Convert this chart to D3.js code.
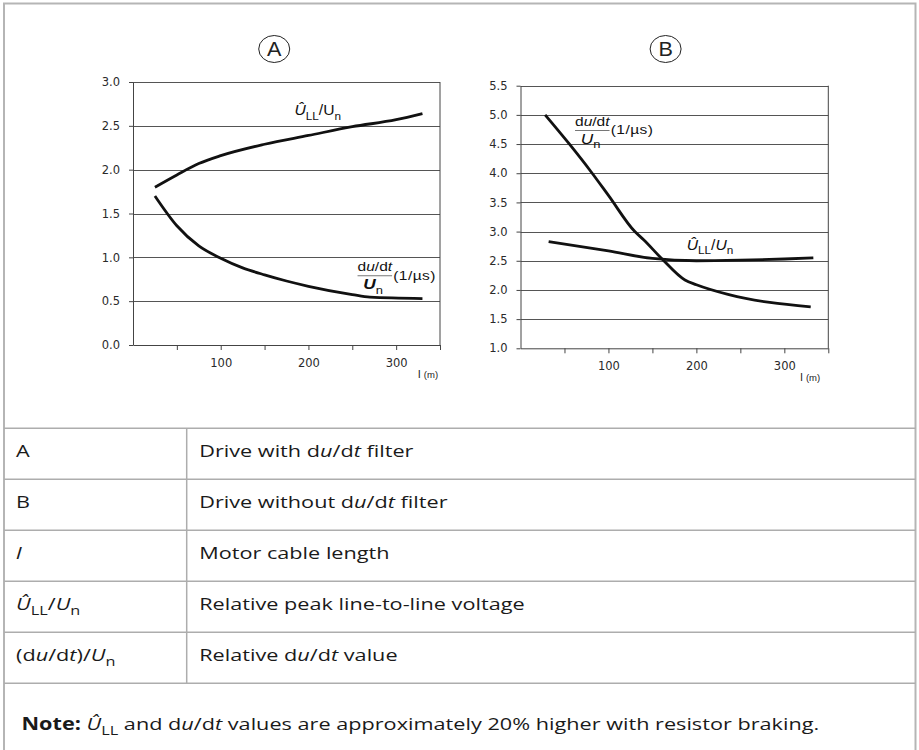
<!DOCTYPE html>
<html lang="en">
<head>
<meta charset="UTF-8">
<script src="https://cdn.jsdelivr.net/npm/d3@7"></script>
<title>Peak voltage and du/dt vs cable length</title>
<style>
  body { margin: 0; background: #fff; }
</style>
</head>
<body>
<div id="chart"></div>
<script>
// motor cable length (m) on the x axis of both plots
var lenTicks = [50, 100, 150, 200, 250, 300, 350];
var lenLabels = [100, 200, 300];

// plot A: drive with du/dt filter
var aTicks = [0, 0.5, 1.0, 1.5, 2.0, 2.5, 3.0];
var aPeakLen = [25, 50, 75, 100, 150, 200, 250, 300, 330];
var aPeakVal = [1.80, 1.94, 2.07, 2.16, 2.29, 2.39, 2.49, 2.57, 2.64];
var aDvdtLen = [25, 50, 75, 100, 125, 150, 175, 200, 250, 270, 330];
var aDvdtVal = [1.70, 1.36, 1.13, 0.99, 0.88, 0.80, 0.73, 0.67, 0.575, 0.545, 0.53];

// plot B: drive without du/dt filter
var bTicks = [1.0, 1.5, 2.0, 2.5, 3.0, 3.5, 4.0, 4.5, 5.0, 5.5];
var bPeakLen = [32, 100, 150, 200, 250, 300, 333];
var bPeakVal = [2.83, 2.67, 2.54, 2.50, 2.51, 2.53, 2.55];
var bDvdtLen = [28, 55, 80, 100, 130, 140, 161, 187, 200, 237, 330];
var bDvdtVal = [5.0, 4.51, 4.03, 3.62, 3.0, 2.86, 2.53, 2.17, 2.09, 1.92, 1.71];

// legend table (segments: i = italic, b = bold, sub = subscript)
var keyCol = [
  [{t: "A"}],
  [{t: "B"}],
  [{t: "l", i: true}],
  [{t: "Û", i: true}, {t: "LL", sub: true}, {t: "/"}, {t: "U", i: true}, {t: "n", sub: true}],
  [{t: "(d"}, {t: "u", i: true}, {t: "/d"}, {t: "t", i: true}, {t: ")/"}, {t: "U", i: true}, {t: "n", sub: true}]
];
var descCol = [
  [{t: "Drive with d"}, {t: "u", i: true}, {t: "/d"}, {t: "t", i: true}, {t: " filter"}],
  [{t: "Drive without d"}, {t: "u", i: true}, {t: "/d"}, {t: "t", i: true}, {t: " filter"}],
  [{t: "Motor cable length"}],
  [{t: "Relative peak line-to-line voltage"}],
  [{t: "Relative d"}, {t: "u", i: true}, {t: "/d"}, {t: "t", i: true}, {t: " value"}]
];
var note = [{t: "Note: ", b: true}, {t: "Û", i: true}, {t: "LL", sub: true}, {t: " and d"}, {t: "u", i: true},
  {t: "/d"}, {t: "t", i: true}, {t: " values are approximately 20% higher with resistor braking."}];

var W = 919, H = 750;
var svg = d3.select("#chart").append("svg").attr("width", W).attr("height", H);

var tableFont = "'Open Sans', sans-serif";
var chartFont = "'Liberation Sans', Arial, sans-serif";

// the source picture is a little wider than tall, so text gets a horizontal stretch
function label(parent, x, y, sx) {
  return parent.append("g").attr("transform", "translate(" + x + "," + y + ") scale(" + sx + ",1)");
}

// write rich text (italic / bold / subscript pieces) into a text element
function rich(text, segs, size) {
  var shift = 0;
  segs.forEach(function(s) {
    var sp = text.append("tspan").text(s.t);
    if (s.i) sp.attr("font-style", "italic");
    if (s.b) sp.attr("font-weight", "bold");
    var want = s.sub ? size * 0.3 : 0;
    if (want !== shift) { sp.attr("dy", want - shift); shift = want; }
    if (s.sub) sp.attr("font-size", size * 0.75);
  });
  return text;
}

function plot(cfg) {
  var x = d3.scaleLinear().domain([0, 350]).range(cfg.xr);
  var y = d3.scaleLinear().domain(cfg.yd).range(cfg.yr);
  var g = svg.append("g");

  // horizontal grid
  g.selectAll(".grid").data(cfg.ticks.slice(1)).enter().append("line")
    .attr("x1", x(0)).attr("x2", x(350))
    .attr("y1", function(d) { return Math.round(y(d)) + 0.5; })
    .attr("y2", function(d) { return Math.round(y(d)) + 0.5; })
    .attr("stroke", "#555").attr("stroke-width", 1);

  // right border
  g.append("line").attr("x1", x(350)).attr("x2", x(350))
    .attr("y1", y(cfg.yd[1])).attr("y2", y(cfg.yd[0]))
    .attr("stroke", "#444");

  var yAxis = g.append("g").attr("transform", "translate(" + x(0) + ",0)")
    .call(d3.axisLeft(y).tickValues(cfg.ticks).tickSize(4).tickSizeOuter(0).tickPadding(9)
      .tickFormat(d3.format(".1f")));
  var xAxis = g.append("g").attr("transform", "translate(0," + y(cfg.yd[0]) + ")")
    .call(d3.axisBottom(x).tickValues(lenTicks).tickSize(5).tickSizeOuter(0).tickPadding(9)
      .tickFormat(function(d) { return lenLabels.indexOf(d) >= 0 ? d : ""; }));
  [yAxis, xAxis].forEach(function(a) {
    a.attr("font-family", "'DejaVu Sans', sans-serif").attr("font-size", 11.5);
    a.select(".domain").attr("stroke", "#444");
    a.selectAll(".tick line").attr("stroke", "#444");
    a.selectAll(".tick text").attr("fill", "#2a2a2a");
  });

  // axis title l (m)
  var t = g.append("text").attr("x", x(cfg.xTitle)).attr("y", y(cfg.yd[0]) + 33)
    .attr("font-family", chartFont).attr("font-size", 11.5).attr("fill", "#222");
  t.append("tspan").text("l ");
  t.append("tspan").text("(m)").attr("font-size", 9.5);

  // curves
  var line = d3.line().curve(d3.curveMonotoneX)
    .x(function(d) { return x(d[0]); }).y(function(d) { return y(d[1]); });
  [[cfg.peakLen, cfg.peakVal], [cfg.dvLen, cfg.dvVal]].forEach(function(s) {
    g.append("path").datum(d3.zip(s[0], s[1]))
      .attr("d", line).attr("fill", "none")
      .attr("stroke", "#111").attr("stroke-width", 2.8);
  });

  // circled letter
  g.append("ellipse").attr("cx", x(cfg.letterAt)).attr("cy", 49)
    .attr("rx", 15.5).attr("ry", 13.5).attr("fill", "none").attr("stroke", "#222").attr("stroke-width", 1);
  label(g, x(cfg.letterAt), 56, 1.08).append("text").attr("text-anchor", "middle")
    .attr("font-family", chartFont).attr("font-size", 20).attr("fill", "#222").text(cfg.letter);

  // peak voltage label
  rich(label(g, x(cfg.peakLab[0]), y(cfg.peakLab[1]), 1.12).append("text")
    .attr("font-family", chartFont).attr("font-size", 14).attr("fill", "#111"), cfg.peakSegs, 14);

  // du/dt fraction label
  var f = label(g, x(cfg.dvLab[0]), y(cfg.dvLab[1]), 1.15);
  var num = rich(f.append("text")
    .attr("font-family", chartFont).attr("font-size", 13.5).attr("fill", "#111"),
    [{t: "d"}, {t: "u", i: true}, {t: "/d"}, {t: "t", i: true}], 13.5);
  var nw = num.node().getComputedTextLength();
  f.append("line").attr("x1", 0).attr("x2", nw).attr("y1", 4.5).attr("y2", 4.5)
    .attr("stroke", "#777").attr("stroke-width", 1);
  rich(f.append("text").attr("x", 5).attr("y", 18)
    .attr("font-family", chartFont).attr("font-size", 15).attr("fill", "#111"),
    [{t: "U", i: true, b: cfg.boldU}, {t: "n", sub: true}], 15);
  f.append("text").attr("x", nw + 1).attr("y", 8.5).attr("letter-spacing", 0.4)
    .attr("font-family", chartFont).attr("font-size", 13.5).attr("fill", "#111").text("(1/\u00b5s)");
}

plot({
  xr: [133, 440], yd: [0, 3], yr: [345, 82], ticks: aTicks, xTitle: 325,
  peakLen: aPeakLen, peakVal: aPeakVal, dvLen: aDvdtLen, dvVal: aDvdtVal,
  letter: "A", letterAt: 161,
  peakLab: [184, 2.62], dvLab: [256, 0.84], boldU: true,
  peakSegs: [{t: "Û", i: true}, {t: "LL", sub: true}, {t: "/U"}, {t: "n", sub: true}]
});
plot({
  xr: [520.5, 828.3], yd: [1, 5.5], yr: [348.3, 85.7], ticks: bTicks, xTitle: 318,
  peakLen: bPeakLen, peakVal: bPeakVal, dvLen: bDvdtLen, dvVal: bDvdtVal,
  letter: "B", letterAt: 165,
  peakLab: [189, 2.68], dvLab: [62, 4.81], boldU: false,
  peakSegs: [{t: "Û", i: true}, {t: "LL", sub: true}, {t: "/"}, {t: "U", i: true}, {t: "n", sub: true}]
});

// frame and legend table
var L = 4, R = 915.5, figBottom = 428.3;
var row = d3.scaleLinear().domain([0, keyCol.length]).range([figBottom, 683.3]);
var colSplit = 186.7;
var border = "#adadad";
var tableSx = 1.275;

svg.append("path").attr("d", "M" + L + "," + H + "V3.5H" + R + "V" + H)
  .attr("fill", "none").attr("stroke", "#b5b5b5").attr("stroke-width", 2);
svg.selectAll(".hline").data(d3.range(keyCol.length + 1)).enter().append("line")
  .attr("x1", L).attr("x2", R).attr("y1", row).attr("y2", row)
  .attr("stroke", border).attr("stroke-width", 1.5);
svg.append("line").attr("x1", colSplit).attr("x2", colSplit)
  .attr("y1", row(0)).attr("y2", row(keyCol.length))
  .attr("stroke", border).attr("stroke-width", 1.5);

function cell(x, y, segs) {
  rich(label(svg, x, y, tableSx).append("text")
    .attr("font-family", tableFont).attr("font-size", 17).attr("fill", "#1a1a1a"), segs, 17);
}
keyCol.forEach(function(segs, i) {
  cell(16, row(i) + 29, segs);
  cell(colSplit + 12.5, row(i) + 29, descCol[i]);
});
cell(21.5, 730, note);
</script>
</body>
</html>
